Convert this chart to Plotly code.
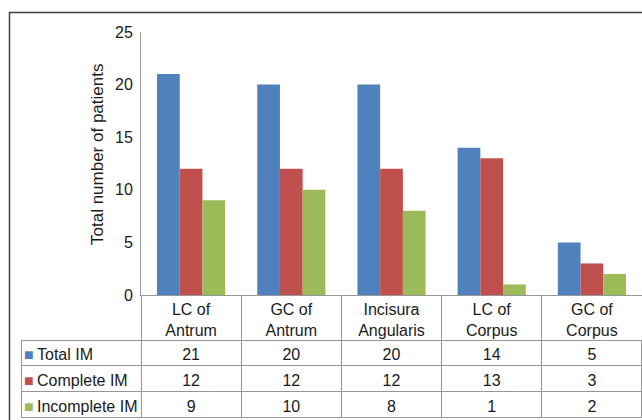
import plotly.graph_objects as go

# Sites of intestinal metaplasia along the stomach
sites = ["LC of<br>Antrum", "GC of<br>Antrum", "Incisura<br>Angularis", "LC of<br>Corpus", "GC of<br>Corpus"]

series_names = ["Total IM", "Complete IM", "Incomplete IM"]
total_im = [21, 20, 20, 14, 5]
complete_im = [12, 12, 12, 13, 3]
incomplete_im = [9, 10, 8, 1, 2]
colors = ["#4F81BD", "#C0504D", "#9BBB59"]

series_values = [total_im, complete_im, incomplete_im]

W, H = 642, 420
FONT = "Liberation Sans, Arial, sans-serif"
FS = 16
INK = "#1a1a1a"
GRID = "#969696"
CLEAR = "rgba(0,0,0,0)"

fig = go.Figure()

for name, vals, col in zip(series_names, series_values, colors):
    fig.add_trace(go.Bar(
        x=sites, y=vals, name=name, marker=dict(color=col, line=dict(width=0)),
        showlegend=False, xaxis="x", yaxis="y",
    ))

# Data table under the chart (the empty table header is kept invisible)
x_left_px, x_axis_px = 21, 141
cat_w = (W - x_axis_px) / len(sites)
row_h = 25.8
empty_header = 16
table_y = [0, (H - 340 + empty_header) / H]
hidden_header = dict(values=[], fill=dict(color=CLEAR), line=dict(width=0, color=CLEAR))

table_columns = [[""] * len(series_names)] + [[series_values[s][i] for s in range(3)] for i in range(len(sites))]

fig.add_trace(go.Table(
    domain=dict(x=[x_left_px / W, 1], y=table_y),
    columnwidth=[x_axis_px - x_left_px] + [cat_w] * len(sites),
    header=hidden_header,
    cells=dict(
        values=table_columns,
        height=row_h,
        align=["left"] + ["center"] * len(sites),
        line=dict(color=GRID, width=1),
        fill=dict(color="white"),
        font=dict(family=FONT, size=FS, color=INK),
    ),
))

# Colour keys of the series, borderless, over the first table column
fig.add_trace(go.Table(
    domain=dict(x=[16 / W, 36 / W], y=table_y),
    columnwidth=[20],
    header=hidden_header,
    cells=dict(
        values=[["■"] * len(series_names)],
        height=row_h,
        align="left",
        line=dict(color=CLEAR, width=0),
        fill=dict(color=CLEAR),
        font=dict(family=FONT, size=FS, color=[colors]),
    ),
))

# Series names next to the colour keys
fig.add_trace(go.Table(
    domain=dict(x=[29 / W, x_axis_px / W], y=table_y),
    columnwidth=[x_axis_px - 29],
    header=hidden_header,
    cells=dict(
        values=[[n.replace(" ", "\u00a0") for n in series_names]],
        height=row_h,
        align="left",
        line=dict(color=CLEAR, width=0),
        fill=dict(color=CLEAR),
        font=dict(family=FONT, size=FS, color=INK),
    ),
))

fig.update_layout(
    width=W, height=H,
    margin=dict(l=0, r=0, t=0, b=0, autoexpand=False),
    paper_bgcolor="white", plot_bgcolor="white",
    barmode="group", bargap=0.32, bargroupgap=0,
    font=dict(family=FONT, size=FS, color=INK),
    xaxis=dict(
        domain=[x_axis_px / W, 1], type="category",
        showline=True, linecolor=GRID, linewidth=1,
        ticks="outside", tickson="boundaries", ticklen=45, tickcolor=GRID, tickwidth=1,
        showgrid=False, zeroline=False,
        tickfont=dict(family=FONT, size=FS, color=INK),
    ),
    yaxis=dict(
        domain=[(H - 295) / H, (H - 32) / H], range=[0, 25], dtick=5,
        showline=True, linecolor=GRID, linewidth=1,
        ticks="", showgrid=False, zeroline=False,
        ticklabelstandoff=4,
        tickfont=dict(family=FONT, size=FS, color=INK),
    ),
    annotations=[dict(
        text="Total number of patients", textangle=-90, showarrow=False,
        xref="paper", yref="paper", x=97 / W, y=(H - 155) / H,
        xanchor="center", yanchor="middle",
        font=dict(family=FONT, size=17, color=INK),
    )],
    shapes=[dict(
        type="rect", xref="paper", yref="paper",
        x0=9.5 / W, x1=1.05, y0=-0.05, y1=(H - 12.5) / H,
        line=dict(color="#3f3f3f", width=1.5), layer="below",
    )],
)

fig.write_html("out.html")
